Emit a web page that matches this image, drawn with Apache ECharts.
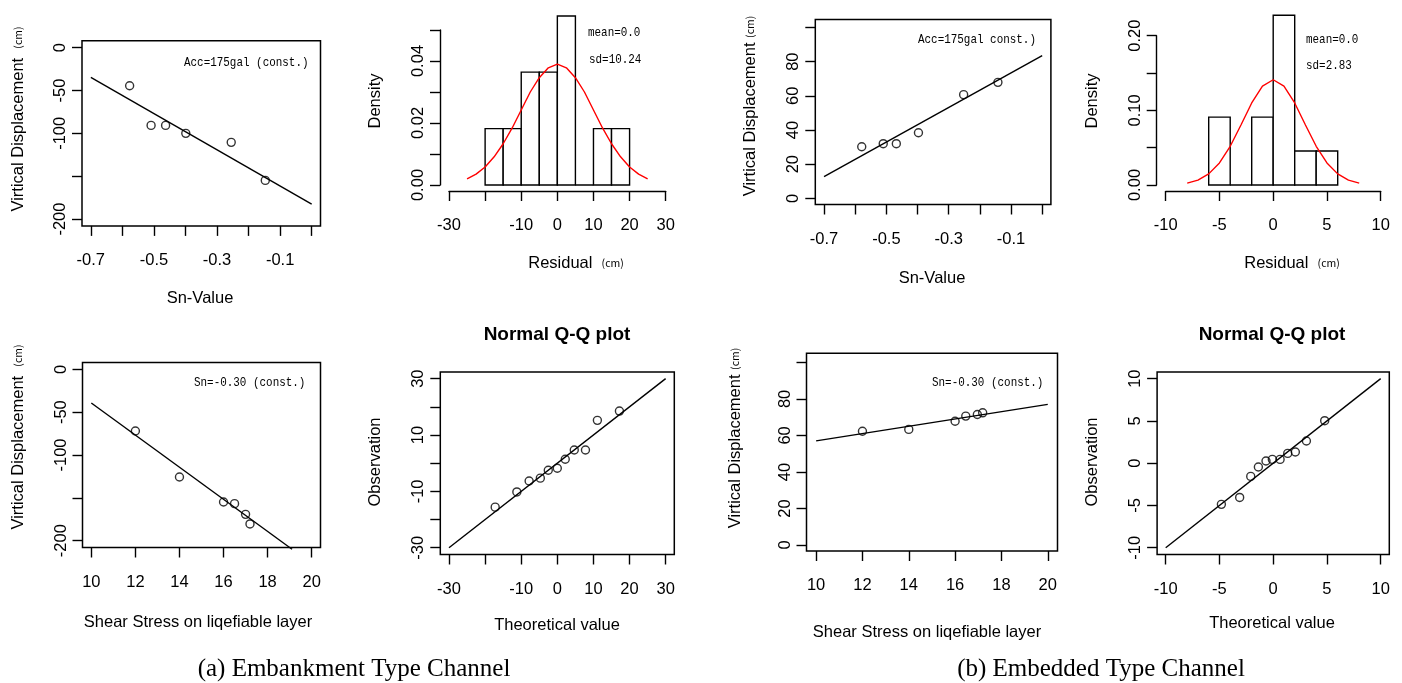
<!DOCTYPE html>
<html>
<head>
<meta charset="utf-8">
<script src="https://cdn.jsdelivr.net/npm/echarts@6.0.0/dist/echarts.min.js"></script>
<style>
  html, body { margin: 0; padding: 0; background: #fff; }
  #chart { width: 1402px; height: 683px; }
</style>
</head>
<body>
<div id="chart"></div>
<script>
// ---- (a) Embankment type channel ----
var snA = [-0.577, -0.509, -0.463, -0.399, -0.255, -0.147];
var dispSnA = [-44.4, -90.7, -90.7, -100, -110.5, -154.9];
var fitSnAX = [-0.7, 0];
var fitSnAY = [-34.6, -182.5];

var binEdgesA = [-20, -15, -10, -5, 0, 5, 10, 15, 20];
var densA = [0.0182, 0.0182, 0.0364, 0.0364, 0.0545, 0, 0.0182, 0.0182];
var normXA = [-25, -22.5, -20, -17.5, -15, -12.5, -10, -7.5, -5, -2.5, 0, 2.5, 5, 7.5, 10, 12.5, 15, 17.5, 20, 22.5, 25];
var normYA = [0.0020, 0.0035, 0.0058, 0.0091, 0.0133, 0.0184, 0.0242, 0.0300, 0.0346, 0.0378, 0.0390, 0.0378, 0.0346, 0.0300, 0.0242, 0.0184, 0.0133, 0.0091, 0.0058, 0.0035, 0.0020];

var shearA = [12, 14, 16, 16.5, 17, 17.2];
var dispShA = [-72, -125.7, -154.9, -156.8, -169.3, -180.5];
var fitShAX = [10, 19.11];
var fitShAY = [-39.3, -210];

var qqTheoA = [-17.2, -11.2, -7.8, -4.7, -2.5, 0, 2.2, 4.7, 7.8, 11.1, 17.2];
var qqObsA = [-15.6, -10.2, -6.3, -5.3, -2.5, -1.8, 1.4, 4.7, 4.7, 15.2, 18.5];
var qqLineA = [-30, 30];

// ---- (b) Embedded type channel ----
var snB = [-0.579, -0.510, -0.468, -0.397, -0.252, -0.142];
var dispSnB = [30.2, 32, 32, 38.4, 60.7, 67.9];
var fitSnBX = [-0.7, 0];
var fitSnBY = [12.7, 83.5];

var binEdgesB = [-6, -4, -2, 0, 2, 4, 6];
var densB = [0.0909, 0, 0.0909, 0.2273, 0.0455, 0.0455];
var normXB = [-8, -7, -6, -5, -4, -3, -2, -1, 0, 1, 2, 3, 4, 5, 6, 7, 8];
var normYB = [0.0026, 0.0066, 0.0149, 0.0296, 0.0519, 0.0804, 0.1099, 0.1325, 0.1410, 0.1325, 0.1099, 0.0804, 0.0519, 0.0296, 0.0149, 0.0066, 0.0026];

var shearB = [12, 14, 16, 16.46, 16.96, 17.19];
var dispShB = [62.3, 63.3, 67.8, 70.6, 71.5, 72.4];
var fitShBX = [10, 20];
var fitShBY = [57, 77];

var qqTheoB = [-4.82, -3.12, -2.09, -1.38, -0.67, -0.08, 0.64, 1.35, 2.06, 3.09, 4.79];
var qqObsB = [-4.87, -4.05, -1.56, -0.45, 0.26, 0.45, 0.45, 1.16, 1.32, 2.62, 5.03];
var qqLineB = [-10, 10];

// ---- tick marks and tick labels ----
var snTicks = [-0.7, -0.6, -0.5, -0.4, -0.3, -0.2, -0.1, 0];
var snLabels = [-0.7, -0.5, -0.3, -0.1];
var shearTicks = [10, 12, 14, 16, 18, 20];
var negDispTicks = [0, -50, -100, -150, -200];
var negDispLabels = [0, -50, -100, -200];
var posDispTicks = [0, 20, 40, 60, 80, 100];
var posDispLabels = [0, 20, 40, 60, 80];
var resTicksA = [-30, -20, -10, 0, 10, 20, 30];
var resLabelsA = [-30, -10, 0, 10, 20, 30];
var densTicksA = [0, 0.01, 0.02, 0.03, 0.04, 0.05];
var densLabelsA = [0, 0.02, 0.04];
var resTicksB = [-10, -5, 0, 5, 10];
var densTicksB = [0, 0.05, 0.10, 0.15, 0.20];
var densLabelsB = [0, 0.10, 0.20];
var qqTicksA = [-30, -20, -10, 0, 10, 20, 30];
var qqXLabelsA = [-30, -10, 0, 10, 20, 30];
var qqYLabelsA = [-30, -10, 10, 30];
var qqTicksB = [-10, -5, 0, 5, 10];

function zip(xs, ys) {
  return xs.map(function (x, i) { return [x, ys[i]]; });
}
function bins(edges, dens) {
  return dens.map(function (d, i) { return [edges[i], edges[i + 1], d]; });
}

var FONT = 'Liberation Sans';

function fmt(dec) {
  return function (v) { return Number(v).toFixed(dec); };
}

function axis(gridIndex, isY, min, max, ticks, labels, dec, opts) {
  opts = opts || {};
  return {
    gridIndex: gridIndex,
    type: 'value',
    min: min,
    max: max,
    offset: opts.offset || 0,
    axisLine: { show: !!opts.line, onZero: false, lineStyle: { color: '#000', width: 1.4 } },
    splitLine: { show: false },
    axisTick: { show: true, length: 10, customValues: ticks, lineStyle: { color: '#000', width: 1.4 } },
    axisLabel: {
      customValues: labels,
      formatter: fmt(dec),
      rotate: isY ? 90 : 0,
      margin: isY ? 13 : 26,
      color: '#000',
      fontSize: 16.5,
      fontFamily: FONT
    }
  };
}

function boxGrid(l, t, w, h) {
  return { left: l, top: t, width: w, height: h, show: true, borderColor: '#000', borderWidth: 1.5,
    backgroundColor: 'transparent', outerBoundsMode: 'none' };
}
function openGrid(l, t, w, h) {
  return { left: l, top: t, width: w, height: h, show: false, outerBoundsMode: 'none' };
}

function points(i, xs, ys) {
  return {
    type: 'scatter', xAxisIndex: i, yAxisIndex: i, data: zip(xs, ys),
    symbol: 'circle', symbolSize: 8, silent: true,
    itemStyle: { color: 'rgba(0,0,0,0)', borderColor: '#000', borderWidth: 1.4 }
  };
}
function line(i, xs, ys, color) {
  return {
    type: 'line', xAxisIndex: i, yAxisIndex: i, data: zip(xs, ys),
    showSymbol: false, symbol: 'none', clip: false, silent: true,
    lineStyle: { color: color || '#000', width: 1.4 }
  };
}
function renderBar(params, api) {
  var p0 = api.coord([api.value(0), 0]);
  var p1 = api.coord([api.value(1), api.value(2)]);
  return {
    type: 'rect',
    shape: { x: p0[0], y: p1[1], width: p1[0] - p0[0], height: p0[1] - p1[1] },
    style: { fill: '#fff', stroke: '#000', lineWidth: 1.4 }
  };
}
function hist(i, edges, dens) {
  return {
    type: 'custom', xAxisIndex: i, yAxisIndex: i, data: bins(edges, dens),
    encode: { x: [0, 1], y: 2 }, renderItem: renderBar, clip: false, silent: true
  };
}

function txt(x, y, text, o) {
  o = o || {};
  return {
    type: 'text', x: x, y: y, rotation: o.rot || 0, scaleX: o.sx || 1, silent: true,
    style: {
      text: text,
      fill: '#000',
      fontSize: o.size || 16.5,
      fontFamily: o.family || FONT,
      fontWeight: o.weight || 'normal',
      align: o.align || 'center',
      verticalAlign: 'middle',
      rich: { s: { fontSize: 10.5, fontFamily: 'Noto Sans CJK JP', fill: '#000' } }
    }
  };
}
var UP = Math.PI / 2;
// narrow gothic-like monospace for the in-plot notes
var MONO = { family: 'Liberation Mono', size: 13, align: 'left', sx: 0.84 };

var chart = echarts.init(document.getElementById('chart'));

var option = {
  animation: false,
  backgroundColor: '#fff',
  grid: [
    boxGrid(82, 40.8, 238.5, 185.1),
    openGrid(449, 30, 216.7, 155),
    boxGrid(815.3, 19.5, 235.6, 185),
    openGrid(1165.7, 35.7, 215, 149.3),
    boxGrid(82.5, 362.5, 238, 185),
    boxGrid(440.3, 371.9, 234, 182.6),
    boxGrid(806.5, 353.3, 251, 197.7),
    boxGrid(1157.1, 371.9, 232.2, 182.6)
  ],
  xAxis: [
    axis(0, false, -0.728, 0.028, snTicks, snLabels, 1),
    axis(1, false, -30, 30, resTicksA, resLabelsA, 0, { line: true, offset: 6 }),
    axis(2, false, -0.728, 0.028, snTicks, snLabels, 1),
    axis(3, false, -10, 10, resTicksB, resTicksB, 0, { line: true, offset: 6 }),
    axis(4, false, 9.6, 20.4, shearTicks, shearTicks, 0),
    axis(5, false, -32.4, 32.4, qqTicksA, qqXLabelsA, 0),
    axis(6, false, 9.585, 20.42, shearTicks, shearTicks, 0),
    axis(7, false, -10.8, 10.8, qqTicksB, qqTicksB, 0)
  ],
  yAxis: [
    axis(0, true, -208, 8, negDispTicks, negDispLabels, 0),
    axis(1, true, 0, 0.05, densTicksA, densLabelsA, 2, { line: true, offset: 9 }),
    axis(2, true, -3.6, 104.7, posDispTicks, posDispLabels, 0),
    axis(3, true, 0, 0.2, densTicksB, densLabelsB, 2, { line: true, offset: 9 }),
    axis(4, true, -208, 8, negDispTicks, negDispLabels, 0),
    axis(5, true, -32.4, 32.4, qqTicksA, qqYLabelsA, 0),
    axis(6, true, -3.3, 105, posDispTicks, posDispLabels, 0),
    axis(7, true, -10.8, 10.8, qqTicksB, qqTicksB, 0)
  ],
  series: [
    line(0, fitSnAX, fitSnAY), points(0, snA, dispSnA),
    hist(1, binEdgesA, densA), line(1, normXA, normYA, '#ff0000'),
    line(2, fitSnBX, fitSnBY), points(2, snB, dispSnB),
    hist(3, binEdgesB, densB), line(3, normXB, normYB, '#ff0000'),
    line(4, fitShAX, fitShAY), points(4, shearA, dispShA),
    line(5, qqLineA, qqLineA), points(5, qqTheoA, qqObsA),
    line(6, fitShBX, fitShBY), points(6, shearB, dispShB),
    line(7, qqLineB, qqLineB), points(7, qqTheoB, qqObsB)
  ],
  graphic: [
    // axis titles
    txt(18, 119, 'Virtical Displacement  {s|(cm)}', { rot: UP }),
    txt(750, 106, 'Virtical Displacement {s|(cm)}', { rot: UP }),
    txt(18, 437, 'Virtical Displacement  {s|(cm)}', { rot: UP }),
    txt(735, 438, 'Virtical Displacement {s|(cm)}', { rot: UP }),
    txt(375, 101, 'Density', { rot: UP }),
    txt(1092, 101, 'Density', { rot: UP }),
    txt(375, 462, 'Observation', { rot: UP }),
    txt(1092, 462, 'Observation', { rot: UP }),
    txt(200, 298, 'Sn-Value'),
    txt(932, 278, 'Sn-Value'),
    txt(576, 263, 'Residual  {s|(cm)}'),
    txt(1292, 263, 'Residual  {s|(cm)}'),
    txt(198, 622, 'Shear Stress on liqefiable layer'),
    txt(927, 632, 'Shear Stress on liqefiable layer'),
    txt(557, 625, 'Theoretical value'),
    txt(1272, 623, 'Theoretical value'),
    txt(557, 335, 'Normal Q-Q plot', { weight: 'bold', size: 19 }),
    txt(1272, 335, 'Normal Q-Q plot', { weight: 'bold', size: 19 }),
    // annotations
    txt(184, 63, 'Acc=175gal (const.)', MONO),
    txt(918, 40, 'Acc=175gal const.)', MONO),
    txt(194, 383, 'Sn=-0.30 (const.)', MONO),
    txt(932, 383, 'Sn=-0.30 (const.)', MONO),
    txt(588, 33, 'mean=0.0', MONO),
    txt(589, 60, 'sd=10.24', MONO),
    txt(1306, 40, 'mean=0.0', MONO),
    txt(1306, 66, 'sd=2.83', MONO),
    // captions
    txt(354, 669, '(a) Embankment Type Channel', { family: 'Liberation Serif', size: 25 }),
    txt(1101, 669, '(b) Embedded Type Channel', { family: 'Liberation Serif', size: 25 })
  ]
};

if (option && typeof option === 'object') {
  chart.setOption(option, true);
}
</script>
</body>
</html>
